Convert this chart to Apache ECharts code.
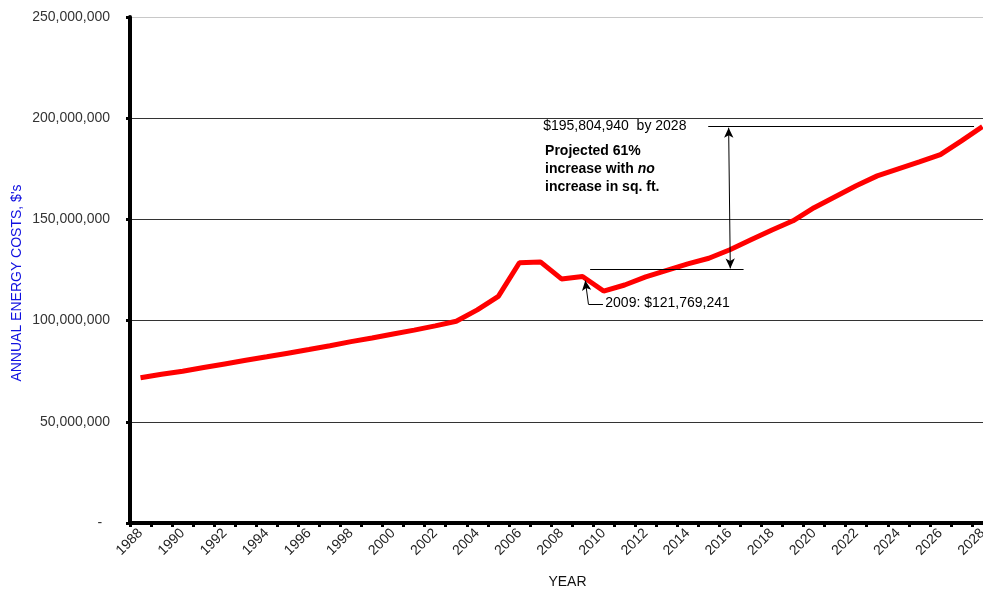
<!DOCTYPE html>
<html>
<head>
<meta charset="utf-8">
<script src="https://cdn.jsdelivr.net/npm/echarts@6/dist/echarts.min.js"></script>
<style>
html,body{margin:0;padding:0;background:#fff;}
#chart{width:983px;height:589px;}
</style>
</head>
<body>
<div id="chart"></div>
<script>
// ---- data ----
var years = [];
for (var y = 1988; y <= 2028; y++) years.push(String(y));

var annualCosts = [
  71800000, 73500000, 75000000, 76800000, 78600000, 80400000, 82100000, 83900000,
  85700000, 87600000, 89600000, 91400000, 93400000, 95300000, 97400000, 99700000,
  105300000, 112000000, 128600000, 129000000, 120600000, 121769241, 114600000, 117600000,
  121600000, 124800000, 128000000, 130800000, 135000000, 139900000, 144800000, 149300000,
  155800000, 161200000, 166600000, 171500000, 175000000, 178400000, 182000000, 188800000,
  195804940
];

var yTicks = [0, 50000000, 100000000, 150000000, 200000000, 250000000];

// annotation geometry in data units (year, dollars)
var topRefLine = [[2014.97, 195804940], [2027.6, 195804940]];
var lowRefLine = [[2009.36, 125500000], [2016.65, 125500000]];
var spanArrow = [[2015.94, 195300000], [2016.02, 125800000]];
var calloutLeg = [[2009.97, 108100000], [2009.28, 108100000]];
var calloutArrow = [[2009.28, 108100000], [2009.13, 119800000]];
var labelTop = [2007.13, 196100000];
var labelProjected = [2007.22, 174900000];
var label2009 = [2010.08, 108800000];

var FONT = 'Arial, "Liberation Sans", sans-serif';

var chart = echarts.init(document.getElementById('chart'));

function seg(p, q, endSym) {
  return [
    {coord: p, symbol: endSym && endSym[0] ? endSym[0] : 'none', symbolSize: [7, 10]},
    {coord: q, symbol: endSym && endSym[1] ? endSym[1] : 'none', symbolSize: [7, 10]}
  ];
}

var option = {
  animation: false,
  backgroundColor: '#fff',
  textStyle: {fontFamily: FONT},
  grid: {left: 130, right: -10, top: 17, bottom: 66, outerBoundsMode: 'none', containLabel: false},
  xAxis: [{
    type: 'category',
    data: years,
    boundaryGap: true,
    name: 'YEAR',
    nameLocation: 'middle',
    nameGap: 52,
    nameMoveOverlap: false,
    nameTextStyle: {color: '#111', fontSize: 14, fontFamily: FONT, padding: [0, 0, 0, 12]},
    axisLine: {show: true, onZero: false, lineStyle: {color: '#000', width: 4}},
    axisTick: {show: true, interval: 0, alignWithLabel: false, length: 4, lineStyle: {color: '#000', width: 3}},
    axisLabel: {interval: 1, rotate: 45, margin: 8, fontSize: 14, color: '#222', fontFamily: FONT},
    splitLine: {show: false}
  }, {
    type: 'value',
    min: 1987.5,
    max: 2028.5,
    show: false
  }],
  yAxis: {
    type: 'value',
    min: yTicks[0],
    max: yTicks[yTicks.length - 1],
    interval: yTicks[1] - yTicks[0],
    name: "ANNUAL ENERGY COSTS, $'s",
    nameLocation: 'middle',
    nameGap: 106,
    nameMoveOverlap: false,
    nameTextStyle: {color: '#1010e0', fontSize: 14, fontFamily: FONT, padding: [0, 26, 0, 0]},
    axisLine: {show: true, lineStyle: {color: '#000', width: 4}},
    axisTick: {show: true, length: 4, lineStyle: {color: '#000', width: 3}},
    axisLabel: {
      margin: 20, fontSize: 14, color: '#333', fontFamily: FONT,
      formatter: function (v) { return v === 0 ? '-  ' : v.toLocaleString('en-US'); }
    },
    splitLine: {show: true, lineStyle: {color: ['#000', '#333', '#333', '#333', '#333', '#c8c8c8'], width: 1}}
  },
  series: [{
    name: 'Annual energy costs',
    type: 'line',
    data: annualCosts,
    showSymbol: false,
    symbol: 'none',
    lineStyle: {color: '#ff0000', width: 5},
    itemStyle: {color: '#ff0000'},
    z: 3
  }, {
    name: 'annotations',
    type: 'line',
    xAxisIndex: 1,
    data: [],
    silent: true,
    z: 4,
    markLine: {
      silent: true,
      symbol: ['none', 'none'],
      label: {show: false},
      lineStyle: {color: '#000', width: 1, type: 'solid'},
      emphasis: {disabled: true},
      data: [
        seg(topRefLine[0], topRefLine[1]),
        seg(lowRefLine[0], lowRefLine[1]),
        seg(spanArrow[0], spanArrow[1], ['arrow', 'arrow']),
        seg(calloutLeg[0], calloutLeg[1]),
        seg(calloutArrow[0], calloutArrow[1], ['none', 'arrow'])
      ]
    },
    markPoint: {
      silent: true,
      symbol: 'circle',
      symbolSize: 0,
      itemStyle: {color: 'transparent'},
      data: [{
        coord: labelTop,
        label: {show: true, position: 'right', distance: 0, color: '#000', fontSize: 14, fontFamily: FONT,
          formatter: '$195,804,940  by 2028'}
      }, {
        coord: labelProjected,
        label: {show: true, position: 'right', distance: 0, color: '#000', fontSize: 14, fontFamily: FONT,
          fontWeight: 'bold', lineHeight: 18,
          formatter: 'Projected 61%\nincrease with {i|no}\nincrease in sq. ft.',
          rich: {i: {fontStyle: 'italic', fontWeight: 'bold', fontSize: 14, fontFamily: FONT, color: '#000', lineHeight: 18}}}
      }, {
        coord: label2009,
        label: {show: true, position: 'right', distance: 0, color: '#000', fontSize: 14, fontFamily: FONT,
          formatter: '2009: $121,769,241'}
      }]
    }
  }]
};

chart.setOption(option);
</script>
</body>
</html>
